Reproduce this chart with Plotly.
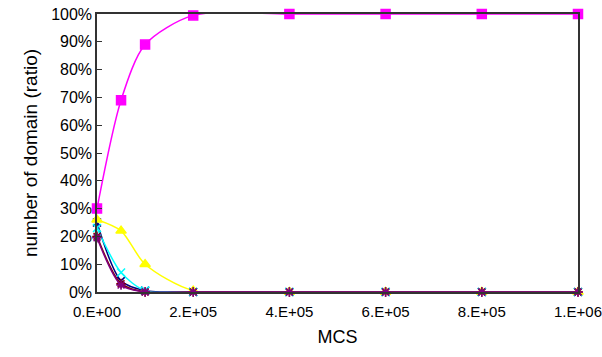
import plotly.graph_objects as go

mcs = [0, 50000, 100000, 200000, 400000, 600000, 800000, 1000000]
navy_vals = [0.25, 0.04, 0.005, 0.0, 0.0, 0.0, 0.0, 0.0]
magenta_vals = [0.30, 0.69, 0.89, 0.995, 1.0, 1.0, 1.0, 1.0]
yellow_vals = [0.26, 0.22, 0.10, 0.005, 0.0, 0.0, 0.0, 0.0]
cyan_vals = [0.23, 0.07, 0.005, 0.0, 0.0, 0.0, 0.0, 0.0]
purple_vals = [0.195, 0.025, 0.0, 0.0, 0.0, 0.0, 0.0, 0.0]
maroon_vals = [0.20, 0.03, 0.0, 0.0, 0.0, 0.0, 0.0, 0.0]

x_tickvals = [0, 200000, 400000, 600000, 800000, 1000000]
x_ticktext = ["0.E+00", "2.E+05", "4.E+05", "6.E+05", "8.E+05", "1.E+06"]
y_tickvals = [0, 0.1, 0.2, 0.3, 0.4, 0.5, 0.6, 0.7, 0.8, 0.9, 1.0]

series = [
    ("navy", navy_vals, "#000080", "x-thin", 8),
    ("magenta", magenta_vals, "#FF00FF", "square", 9),
    ("yellow", yellow_vals, "#FFFF00", "triangle-up", 9),
    ("cyan", cyan_vals, "#00FFFF", "x-thin", 8),
    ("maroon", maroon_vals, "#800000", "asterisk", 8),
    ("purple", purple_vals, "#800080", "asterisk", 8),
]

fig = go.Figure()
for name, vals, color, sym, size in series:
    fig.add_trace(go.Scatter(
        x=mcs, y=vals, name=name, mode="lines+markers",
        line=dict(color=color, width=1.5, shape="spline", smoothing=0.8),
        marker=dict(symbol=sym, size=size, color=color,
                    line=dict(color=color, width=1.5)),
        cliponaxis=False, showlegend=False,
    ))

font = "Liberation Sans, Arial, sans-serif"
fig.update_layout(
    width=602, height=357,
    margin=dict(l=97, r=24, t=14, b=65),
    paper_bgcolor="white", plot_bgcolor="white",
    font=dict(family=font, size=16, color="black"),
    showlegend=False,
)
fig.update_xaxes(
    range=[0, 1000000], tickvals=x_tickvals, ticktext=x_ticktext,
    showgrid=False, zeroline=False, showline=True, linecolor="#333333",
    linewidth=1.5, mirror=True, ticks="", automargin=False,
    ticklabelstandoff=5,
    title=dict(text="MCS", font=dict(size=18), standoff=12),
    tickfont=dict(size=15),
)
fig.update_yaxes(
    range=[0, 1], tickvals=y_tickvals, tickformat=".0%",
    showgrid=False, zeroline=False, showline=True, linecolor="#333333",
    linewidth=1.5, mirror=True, ticks="inside", ticklen=5, tickcolor="#333333",
    automargin=False,
    title=dict(text="number of domain (ratio)", font=dict(size=19), standoff=8),
    tickfont=dict(size=16),
)

fig.write_html("out.html", config={"displayModeBar": False},
               post_script="document.body.style.margin='0';document.body.style.overflow='hidden';")
